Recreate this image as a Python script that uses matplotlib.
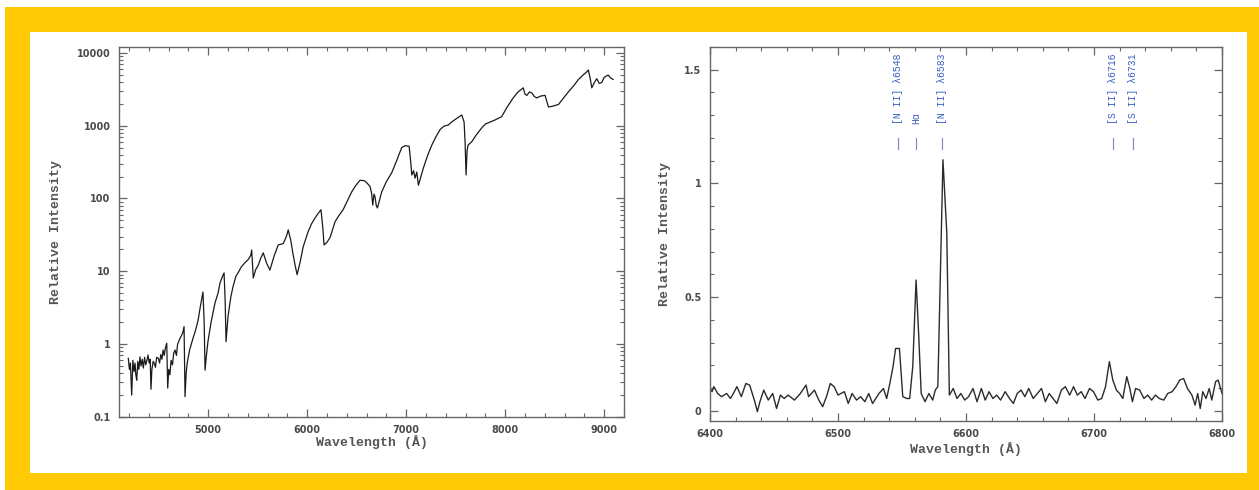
import matplotlib
matplotlib.use("Agg")
import matplotlib.pyplot as plt
from matplotlib.patches import Rectangle
from matplotlib.ticker import MultipleLocator, LogLocator, FixedLocator, NullFormatter

# ---------------- data ----------------
# Broad-band spectrum (left panel)
wave_full = [4194, 4205, 4215, 4228, 4240, 4252, 4262, 4270, 4279, 4290, 4300,
             4312, 4322, 4334, 4346, 4358, 4370, 4382, 4393, 4405, 4415, 4423,
             4432, 4445, 4456, 4468, 4480, 4497, 4510, 4522, 4534, 4545, 4556,
             4568, 4582, 4592, 4602, 4614, 4626, 4640, 4652, 4666, 4680, 4692,
             4704, 4716, 4730, 4745, 4757, 4767, 4778, 4789, 4800, 4815, 4830,
             4847, 4870, 4898, 4920, 4948, 4960, 4969, 4985, 4999, 5030, 5070,
             5100, 5120, 5145, 5161, 5172, 5181, 5201, 5230, 5252, 5280, 5302,
             5335, 5369, 5405, 5430, 5440, 5456, 5480, 5507, 5530, 5557, 5590,
             5624, 5665, 5708, 5758, 5790, 5809, 5834, 5855, 5879, 5899, 5930,
             5960, 6010, 6045, 6080, 6110, 6140, 6158, 6171, 6200, 6231, 6282,
             6320, 6363, 6410, 6450, 6490, 6534, 6580, 6610, 6636, 6650, 6663,
             6675, 6686, 6698, 6710, 6753, 6800, 6854, 6900, 6955, 6990, 7030,
             7045, 7057, 7075, 7090, 7107, 7124, 7175, 7220, 7259, 7300, 7342,
             7380, 7425, 7470, 7520, 7562, 7585, 7595, 7605, 7615, 7625, 7662,
             7710, 7763, 7800, 7847, 7900, 7965, 8020, 8081, 8130, 8182, 8200,
             8219, 8245, 8270, 8295, 8320, 8360, 8403, 8437, 8480, 8538, 8590,
             8638, 8690, 8740, 8790, 8820, 8840, 8858, 8875, 8900, 8925, 8950,
             8975, 9000, 9040, 9065, 9090]
flux_full = [0.64, 0.45, 0.55, 0.20, 0.60, 0.42, 0.55, 0.38, 0.32, 0.58, 0.45,
             0.67, 0.50, 0.62, 0.47, 0.66, 0.52, 0.60, 0.71, 0.55, 0.62, 0.24,
             0.45, 0.58, 0.55, 0.48, 0.66, 0.64, 0.55, 0.72, 0.62, 0.83, 0.70,
             0.88, 1.03, 0.25, 0.45, 0.38, 0.60, 0.52, 0.75, 0.83, 0.70, 1.00,
             1.10, 1.20, 1.30, 1.45, 1.74, 0.19, 0.40, 0.55, 0.67, 0.85, 1.00,
             1.20, 1.50, 2.10, 3.20, 5.20, 2.00, 0.44, 0.75, 1.10, 2.00, 3.70,
             5.00, 6.90, 8.50, 9.50, 4.00, 1.08, 2.40, 4.50, 6.20, 8.50, 9.50,
             11.5, 13.0, 14.5, 16.5, 19.6, 8.1, 10.5, 12.2, 15.0, 17.9, 13.0,
             10.4, 16.0, 23.0, 24.0, 30.0, 37.0, 27.0, 18.0, 12.0, 9.0, 13.5,
             21.7, 35.0, 45.0, 54.0, 62.0, 70.0, 40.0, 23.0, 25.0, 29.0, 48.0,
             58.0, 70.0, 95.0, 123.0, 150.0, 178.0, 175.0, 160.0, 145.0, 120.0, 81.0,
             115.0, 105.0, 80.0, 74.0, 123.0, 170.0, 225.0, 320.0, 500.0, 530.0, 520.0,
             330.0, 210.0, 240.0, 190.0, 230.0, 152.0, 265.0, 400.0, 540.0, 700.0, 880.0,
             980.0, 1020.0, 1150.0, 1280.0, 1400.0, 1120.0, 600.0, 210.0, 450.0, 540.0, 600.0,
             750.0, 930.0, 1050.0, 1120.0, 1200.0, 1330.0, 1800.0, 2400.0, 2900.0, 3300.0, 2700.0,
             2600.0, 2900.0, 2800.0, 2500.0, 2400.0, 2550.0, 2600.0, 1800.0, 1850.0, 1950.0, 2400.0,
             2900.0, 3500.0, 4300.0, 5000.0, 5400.0, 5800.0, 4500.0, 3300.0, 3900.0, 4400.0, 3800.0,
             3900.0, 4600.0, 4950.0, 4500.0, 4300.0]

# H-alpha region (right panel)
wave_ha = [6400, 6401.6, 6403, 6406, 6409, 6413, 6416, 6419, 6421, 6424.5, 6428,
           6431, 6435, 6437, 6439, 6442, 6445.5, 6449, 6452, 6455, 6458, 6461,
           6466, 6470.6, 6475, 6477, 6481.6, 6485, 6488, 6491, 6494, 6497, 6500,
           6505, 6508, 6511, 6514.5, 6517.6, 6521, 6524, 6527, 6532, 6535.5, 6538,
           6540.5, 6543, 6545, 6548, 6550.6, 6553.7, 6556, 6558.4, 6561, 6563, 6565,
           6568, 6571, 6574, 6576, 6578, 6580.4, 6582, 6585, 6587, 6590, 6593,
           6596, 6599, 6602, 6605.5, 6608.6, 6612, 6615, 6618, 6621, 6624, 6627,
           6630.6, 6634, 6637, 6640, 6643, 6646, 6649, 6652.5, 6655.7, 6659, 6662,
           6665, 6668, 6671, 6674.5, 6677.6, 6681, 6684, 6687, 6690, 6693, 6696.5,
           6699.6, 6703, 6706, 6709, 6712, 6714.7, 6717.5, 6720, 6722.5, 6725.6, 6728,
           6730, 6732.5, 6735.7, 6739, 6742, 6745, 6748, 6751, 6754.5, 6757.6, 6761,
           6764, 6767, 6770, 6773, 6776.5, 6779, 6781, 6783, 6785, 6787.5, 6790,
           6792, 6795, 6797, 6800]
flux_ha = [0.098, 0.084, 0.106, 0.076, 0.062, 0.076, 0.054, 0.084, 0.106, 0.062, 0.120,
           0.113, 0.040, -0.004, 0.040, 0.091, 0.047, 0.076, 0.010, 0.069, 0.054, 0.069,
           0.047, 0.076, 0.113, 0.062, 0.091, 0.047, 0.018, 0.062, 0.120, 0.106, 0.069,
           0.084, 0.032, 0.076, 0.047, 0.062, 0.040, 0.076, 0.032, 0.076, 0.098, 0.054,
           0.120, 0.194, 0.274, 0.274, 0.062, 0.054, 0.054, 0.194, 0.575, 0.340, 0.076,
           0.040, 0.076, 0.047, 0.091, 0.106, 0.693, 1.104, 0.781, 0.069, 0.098, 0.054,
           0.076, 0.047, 0.062, 0.098, 0.040, 0.098, 0.047, 0.084, 0.054, 0.069, 0.047,
           0.084, 0.054, 0.032, 0.076, 0.091, 0.062, 0.098, 0.054, 0.076, 0.098, 0.040,
           0.076, 0.054, 0.032, 0.091, 0.106, 0.069, 0.106, 0.069, 0.084, 0.054, 0.098,
           0.084, 0.047, 0.054, 0.106, 0.216, 0.135, 0.091, 0.076, 0.054, 0.150, 0.098,
           0.040, 0.098, 0.091, 0.054, 0.069, 0.047, 0.069, 0.054, 0.047, 0.076, 0.084,
           0.106, 0.135, 0.142, 0.098, 0.069, 0.025, 0.076, 0.010, 0.084, 0.054, 0.098,
           0.047, 0.128, 0.135, 0.076]

# Emission line identifications
line_labels = ["[N II] \u03bb6548", "H\u03b1", "[N II] \u03bb6583",
               "[S II] \u03bb6716", "[S II] \u03bb6731"]
line_waves = [6547, 6561, 6581, 6715, 6730.5]

# ---------------- styling ----------------
W, H = 1259, 490
YELLOW = "#FFC905"
AXCOL = "#666666"
TXTCOL = "#4a4a4a"
BLUE = "#3b5fc4"

fig = plt.figure(figsize=(W / 100, H / 100), dpi=100, facecolor="white")

# Yellow frame with white inner panel, kept behind the axes
fig.patches.append(Rectangle((5 / W, 0), 1 - 5 / W, 1 - 7 / H,
                             transform=fig.transFigure, facecolor=YELLOW,
                             edgecolor="none", zorder=-10))
fig.patches.append(Rectangle((30 / W, 1 - 473 / H), (1247 - 30) / W, (473 - 32) / H,
                             transform=fig.transFigure, facecolor="white",
                             edgecolor="none", zorder=-9))


def axes_at(x0, y0, x1, y1):
    return fig.add_axes([x0 / W, 1 - y1 / H, (x1 - x0) / W, (y1 - y0) / H])


def style(ax):
    for sp in ax.spines.values():
        sp.set_color(AXCOL)
        sp.set_linewidth(1.0)
    ax.tick_params(which="both", direction="in", top=True, right=True,
                   color=AXCOL, labelcolor=TXTCOL, labelsize=7)
    ax.tick_params(which="major", length=6, width=0.9, pad=6)
    ax.tick_params(which="minor", length=3, width=0.8)
    for lab in ax.get_xticklabels() + ax.get_yticklabels():
        lab.set_fontweight("bold")
        lab.set_family("DejaVu Sans")


label_font = dict(family="Liberation Mono", fontsize=9.5, color="#555555",
                  fontweight="bold")

# ---- left panel: full optical spectrum on a log scale ----
ax1 = axes_at(119, 47, 624, 417)
ax1.plot(wave_full, flux_full, color="#1a1a1a", lw=0.9)
ax1.set_yscale("log")
ax1.set_xlim(4100, 9200)
ax1.set_ylim(0.1, 12000)
ax1.xaxis.set_major_locator(MultipleLocator(1000))
ax1.xaxis.set_minor_locator(MultipleLocator(200))
ax1.yaxis.set_major_locator(FixedLocator([0.1, 1, 10, 100, 1000, 10000]))
ax1.yaxis.set_minor_locator(LogLocator(base=10, subs=range(2, 10)))
ax1.yaxis.set_minor_formatter(NullFormatter())
ax1.set_yticklabels(["0.1", "1", "10", "100", "1000", "10000"])
style(ax1)
ax1.set_xlabel("Wavelength (\u00c5)", labelpad=0, **label_font)
ax1.set_ylabel("Relative Intensity", labelpad=11, **label_font)

# ---- right panel: H-alpha / [N II] / [S II] region ----
ax2 = axes_at(710, 47, 1222, 421)
ax2.plot(wave_ha, flux_ha, color="#2b2b2b", lw=1.0)
ax2.set_xlim(6400, 6800)
ax2.set_ylim(-0.045, 1.60)
ax2.xaxis.set_major_locator(MultipleLocator(100))
ax2.xaxis.set_minor_locator(MultipleLocator(20))
ax2.yaxis.set_major_locator(FixedLocator([0, 0.5, 1, 1.5]))
ax2.yaxis.set_minor_locator(MultipleLocator(0.1))
ax2.set_yticklabels(["0", "0.5", "1", "1.5"])
style(ax2)
ax2.set_xlabel("Wavelength (\u00c5)", labelpad=2, **label_font)
ax2.set_ylabel("Relative Intensity", labelpad=10, **label_font)

for lab, wl in zip(line_labels, line_waves):
    ax2.plot([wl, wl], [1.15, 1.20], color="#8090c0", lw=0.9)
    ax2.text(wl, 1.26, lab, rotation=90, ha="center", va="bottom",
             color=BLUE, fontsize=7, family="Liberation Mono")

fig.savefig("out.png", dpi=100, facecolor=fig.get_facecolor())
